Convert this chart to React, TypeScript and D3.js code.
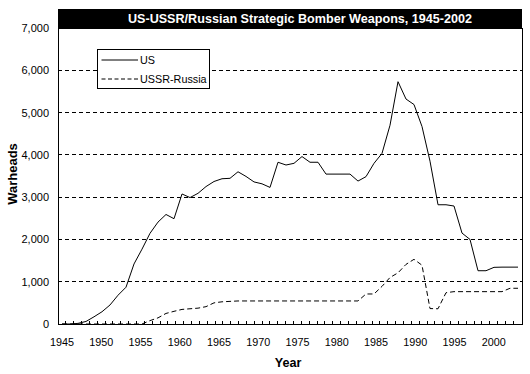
import { format, line, range, scaleBand, scaleLinear } from 'd3'

const WIDTH = 530
const HEIGHT = 374
const PLOT = { left: 58, right: 522, top: 28, bottom: 324 }
const FONT = 'Arial, "Liberation Sans", sans-serif'

const years = range(1945, 2003)

const usWarheads = [
  0, 0, 15, 60, 170, 290, 450, 680, 870, 1420,
  1770, 2145, 2410, 2590, 2490, 3075, 2990, 3090, 3250, 3370,
  3435, 3445, 3600, 3490, 3360, 3315, 3230, 3825, 3760, 3800,
  3960, 3825, 3825, 3545, 3545, 3545, 3545, 3380, 3485, 3800,
  4035, 4700, 5730, 5320, 5190, 4670, 3850, 2820, 2820, 2790,
  2150, 2000, 1260, 1260, 1340, 1345, 1345, 1345,
]

const ussrWarheads = [
  0, 0, 0, 0, 0, 0, 0, 0, 0, 0,
  0, 80, 145, 250, 300, 345, 360, 375, 410, 500,
  525, 535, 545, 545, 545, 545, 545, 545, 545, 545,
  545, 545, 545, 545, 545, 545, 545, 545, 710, 710,
  890, 1100, 1210, 1410, 1530, 1390, 365, 360, 740, 765,
  765, 765, 765, 765, 765, 765, 845, 845,
]

const yTicks = [0, 1000, 2000, 3000, 4000, 5000, 6000, 7000]
const labelYears = [1945, 1950, 1955, 1960, 1965, 1970, 1975, 1980, 1985, 1990, 1995, 2000]
const seriesNames = ['US', 'USSR-Russia']

export default function App() {
  // data points sit in the middle of one band per year
  const xScale = scaleBand<number>().domain(years).range([PLOT.left, PLOT.right])
  const half = xScale.bandwidth() / 2
  // the category axis labels/ticks run on a slightly tighter spacing
  const axisScale = scaleLinear().domain([1944.5, 2003.6]).range([PLOT.left, PLOT.right])
  const yScale = scaleLinear().domain([0, 7000]).range([PLOT.bottom, PLOT.top])

  const seriesLine = line<number>()
    .x((_: number, i: number) => (xScale(years[i]) ?? 0) + half)
    .y((d) => yScale(d))

  const fmt = format(',')

  return (
    <svg
      width={WIDTH}
      height={HEIGHT}
      style={{ position: 'absolute', left: 0, top: 0, background: '#fff' }}
      fontFamily={FONT}
    >
      {/* gridlines */}
      {yTicks.slice(1, -1).map((t) => (
        <line
          key={t}
          x1={PLOT.left}
          x2={PLOT.right}
          y1={yScale(t)}
          y2={yScale(t)}
          stroke="#000"
          strokeDasharray="4,3"
          shapeRendering="crispEdges"
        />
      ))}

      {/* plot border */}
      <rect
        x={PLOT.left}
        y={PLOT.top}
        width={PLOT.right - PLOT.left}
        height={PLOT.bottom - PLOT.top}
        fill="none"
        stroke="#000"
        shapeRendering="crispEdges"
      />

      {/* x ticks between categories */}
      {years.map((yr) => (
        <line
          key={yr}
          x1={axisScale(yr + 0.5)}
          x2={axisScale(yr + 0.5)}
          y1={PLOT.bottom}
          y2={PLOT.bottom - 3}
          stroke="#000"
          shapeRendering="crispEdges"
        />
      ))}

      <path d={seriesLine(ussrWarheads) ?? ''} fill="none" stroke="#000" strokeDasharray="5,3" />
      <path d={seriesLine(usWarheads) ?? ''} fill="none" stroke="#000" />

      {/* title bar */}
      <rect x={PLOT.left} y={9} width={PLOT.right - PLOT.left} height={PLOT.top - 9} fill="#000" />
      <text x={300} y={23} textAnchor="middle" fill="#fff" fontWeight="bold" fontSize={12.6}>
        US-USSR/Russian Strategic Bomber Weapons, 1945-2002
      </text>

      {/* y tick labels */}
      {yTicks.map((t) => (
        <text key={t} x={49} y={yScale(t) + 4} textAnchor="end" fontSize={11}>
          {fmt(t)}
        </text>
      ))}

      {/* x tick labels */}
      {labelYears.map((yr) => (
        <text key={yr} x={axisScale(yr)} y={346} textAnchor="middle" fontSize={10.8}>
          {yr}
        </text>
      ))}

      <text x={288} y={367} textAnchor="middle" fontWeight="bold" fontSize={12.6}>
        Year
      </text>
      <text
        transform={`translate(17,${(PLOT.top + PLOT.bottom) / 2 - 2}) rotate(-90)`}
        textAnchor="middle"
        fontWeight="bold"
        fontSize={13}
      >
        Warheads
      </text>

      {/* legend */}
      <g transform="translate(97,49)">
        <rect width={112} height={39} fill="#fff" stroke="#000" shapeRendering="crispEdges" />
        {seriesNames.map((name, i) => (
          <g key={name} transform={`translate(0,${11 + i * 19})`}>
            <line
              x1={4.5}
              x2={41}
              stroke="#000"
              strokeDasharray={i === 1 ? '4,2.5' : undefined}
            />
            <text x={43} y={4} fontSize={10.8}>
              {name}
            </text>
          </g>
        ))}
      </g>
    </svg>
  )
}
